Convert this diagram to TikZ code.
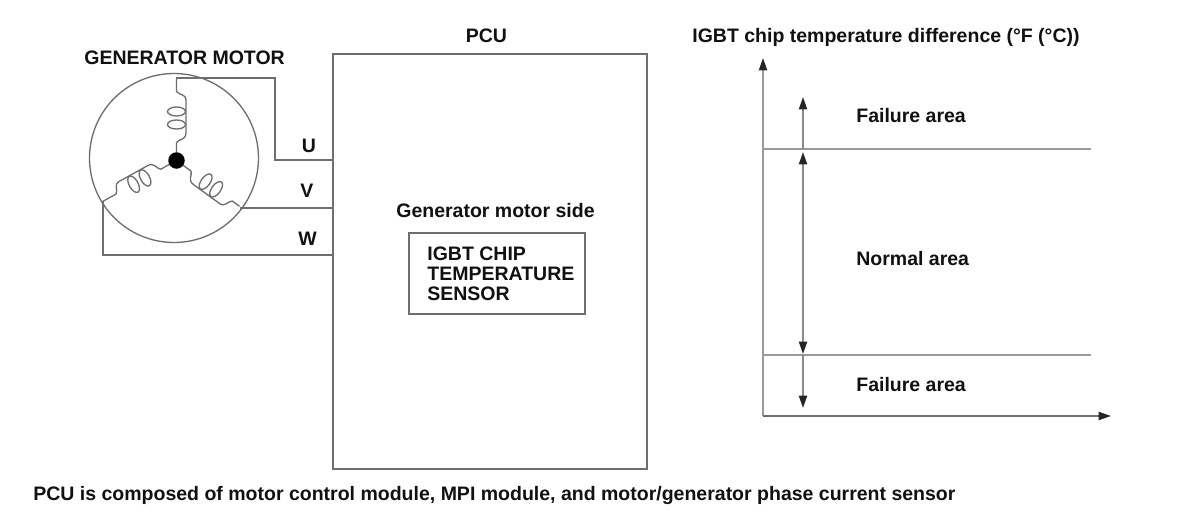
\documentclass[tikz,border=0pt]{standalone}
\usepackage{fontspec}
\setmainfont{Liberation Sans}
\usetikzlibrary{arrows.meta}
\definecolor{ln}{HTML}{6E6E6E}
\definecolor{lnl}{HTML}{999999}
\definecolor{tx}{HTML}{111111}
\tikzset{
  x=0.02cm,y=-0.02cm,
  wire/.style={draw=ln,line width=0.75pt},
  axisline/.style={draw=lnl,line width=1pt},
  box/.style={draw=ln,line width=0.8pt,fill=white,inner sep=0pt,minimum width=#1},
  lbl/.style={font=\bfseries\fontsize{11.1}{11.34}\selectfont,text=tx,inner sep=0pt,anchor=base west,align=left},
  tip/.style={-{Triangle[length=7pt,width=4.6pt,color=black!85]}},
  tips/.style={{Triangle[length=7pt,width=4.6pt,color=black!85]}-{Triangle[length=7pt,width=4.6pt,color=black!85]}},
  coil/.pic={
    \draw[wire,line join=round] (0,0) -- (0,-18) .. controls (3,-22) and (9.5,-20) .. (9.5,-28)
       .. controls (9.5,-40) and (9.5,-50) .. (9.5,-60)
       .. controls (9.5,-67) and (3,-65) .. (0,-69) -- (0,-#1);
    \draw[wire] (0,-36) ellipse [x radius=9,y radius=4.5];
    \draw[wire] (0,-49) ellipse [x radius=9,y radius=4.5];
  }
}
\begin{document}
\begin{tikzpicture}
\useasboundingbox (0,0) rectangle (1200,524);
\fill[white] (0,0) rectangle (1200,524);
% motor
\node[circle,draw=ln,line width=0.75pt,minimum size=3.38cm,inner sep=0pt] (motor) at (174,158) {};
\coordinate (d) at (176.5,160.5);
\pic at (d) {coil={82}};
\pic[rotate=119] at (d) {coil={84}};
\pic[rotate=234] at (d) {coil={78}};
\node[circle,fill=black,minimum size=0.33cm,inner sep=0pt] (dot) at (d) {};
% PCU
\node[box=6.28cm,minimum height=8.3cm] (pcu) at (490,261.5) {};
\coordinate (uS) at (176,78);
\coordinate (vS) at (240,208);
\coordinate (wS) at (103,201);
\draw[wire] (uS) -- (275,78) -- (275,160) -- (pcu.west |- 0,160);
\draw[wire] (vS) -- (pcu.west |- vS);
\draw[wire] (wS) -- (103,255) -- (pcu.west |- 0,255);
\node[lbl] (tu) at (301.5,152.5) {U};
\node[lbl] (tv) at (300,197.5) {V};
\node[lbl] (tw) at (298,245) {W};
\node[lbl] (tg) at (84,64.5) {GENERATOR MOTOR};
\node[lbl] (tp) at (465.5,42.5) {PCU};
\node[lbl] (ts) at (396,217.5) {Generator motor side};
\node[box=3.52cm,minimum height=1.62cm] (sens) at (497,273.5) {};
\node[lbl,anchor=north west] (st) at (427,247) {IGBT CHIP\\TEMPERATURE\\SENSOR};
% chart
\coordinate (o) at (763,416);
\coordinate (ya) at (763,58);
\coordinate (xa) at (1111,416);
\draw[axisline,tip] (o) -- (ya);
\draw[axisline,draw=ln,tip] (o) -- (xa);
\coordinate (h1) at (763,149);
\coordinate (h1e) at (1091,149);
\coordinate (h2) at (763,355);
\coordinate (h2e) at (1091,355);
\draw[axisline] (h1) -- (h1e);
\draw[axisline] (h2) -- (h2e);
\coordinate (a0) at (803,97);
\coordinate (a1) at (803,149);
\coordinate (a1b) at (803,152);
\coordinate (a2) at (803,354);
\coordinate (a3) at (803,355);
\coordinate (a4) at (803,408);
\draw[axisline,draw=ln!80,tip] (a1) -- (a0);
\draw[axisline,draw=ln!80,tips] (a1b) -- (a2);
\draw[axisline,draw=ln!80,tip] (a3) -- (a4);
\node[lbl] (t1) at (692,42.5) {IGBT chip temperature difference (°F (°C))};
\node[lbl] (f1) at (856,122.5) {Failure area};
\node[lbl] (n1) at (856,265) {Normal area};
\node[lbl] (f2) at (856,391) {Failure area};
\node[lbl] (foot) at (33,500) {PCU is composed of motor control module, MPI module, and motor/generator phase current sensor};
\end{tikzpicture}
\end{document}
